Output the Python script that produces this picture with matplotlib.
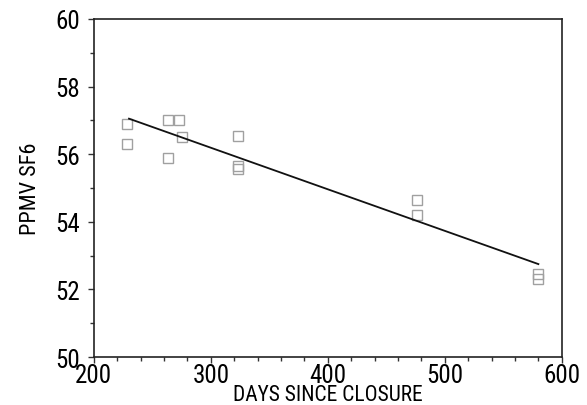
import numpy as np
import matplotlib
matplotlib.use('Agg')
import matplotlib.pyplot as plt
from matplotlib.ticker import MultipleLocator

# 测量点 (days since closure, ppmv SF6)
days = [228, 228, 263, 263, 273, 275, 323, 323, 323, 476, 476, 580, 580]
ppmv = [56.9, 56.3, 57.0, 55.9, 57.0, 56.5, 56.55, 55.65, 55.55, 54.65, 54.2, 52.45, 52.3]

# 回归线端点
fit_days = [230, 580]
fit_ppmv = [57.05, 52.75]

plt.rcParams['font.family'] = ['Roboto Condensed', 'DejaVu Sans']

fig = plt.figure(figsize=(5.87, 4.06), dpi=100)
ax = fig.add_axes([0.160, 0.118, 0.797, 0.833])

ax.plot(days, ppmv, 's', markersize=6.5, markerfacecolor='none',
        markeredgecolor='#a0a0a0', markeredgewidth=1.0)
ax.plot(fit_days, fit_ppmv, '-', color='#111111', linewidth=1.3)

ax.set_xlim(200, 600)
ax.set_ylim(50, 60)
ax.xaxis.set_major_locator(MultipleLocator(100))
ax.xaxis.set_minor_locator(MultipleLocator(20))
ax.yaxis.set_major_locator(MultipleLocator(2))
ax.yaxis.set_minor_locator(MultipleLocator(1))
ax.tick_params(axis='both', which='both', direction='out', width=1, color='#333333')
ax.tick_params(axis='both', which='major', labelsize=18, length=4)
ax.tick_params(axis='both', which='minor', length=3)
ax.tick_params(axis='x', which='major', pad=0)
ax.tick_params(axis='y', which='major', pad=6)
for s in ax.spines.values():
    s.set_linewidth(1.2)
    s.set_color('#222222')

ax.set_xlabel('DAYS SINCE CLOSURE', fontsize=15.5)
ax.xaxis.set_label_coords(0.5, -0.08)
ax.set_ylabel('PPMV SF6', fontsize=16, labelpad=10)

fig.savefig('out.png', dpi=100)
